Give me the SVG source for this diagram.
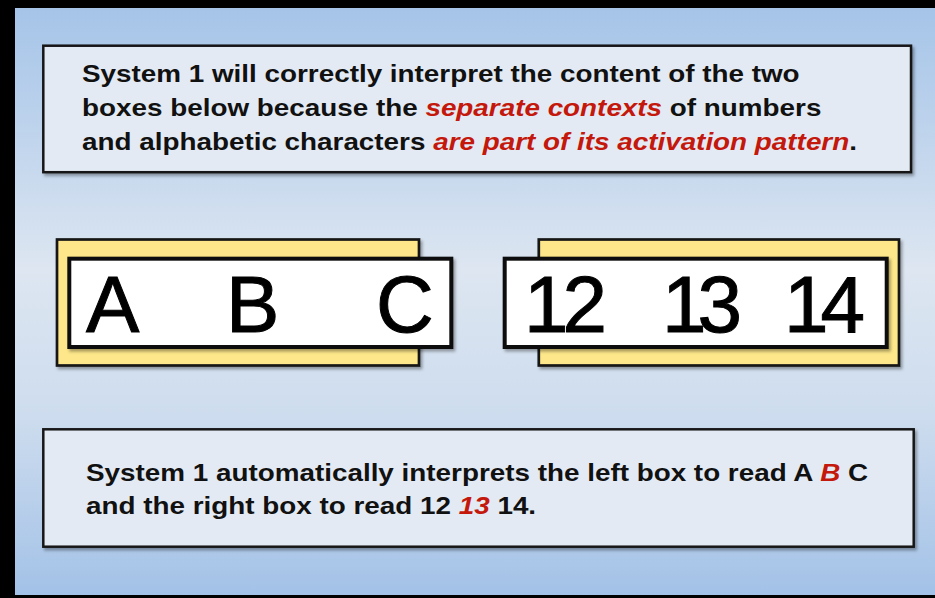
<svg xmlns="http://www.w3.org/2000/svg" width="935" height="598" viewBox="0 0 935 598">
  <defs>
    <linearGradient id="bg" x1="0" y1="0" x2="0" y2="1">
      <stop offset="0" stop-color="#a4c3e8"/>
      <stop offset="0.2" stop-color="#bcd2ec"/>
      <stop offset="0.45" stop-color="#dde6f1"/>
      <stop offset="0.7" stop-color="#cddcee"/>
      <stop offset="1" stop-color="#a2c1e7"/>
    </linearGradient>
    <filter id="shadow" x="-5%" y="-5%" width="110%" height="115%">
      <feDropShadow dx="2" dy="2.5" stdDeviation="1.5" flood-color="#000" flood-opacity="0.35"/>
    </filter>
    <style>
      .note { fill: #e3eaf3; stroke: #161616; stroke-width: 2.5; filter: url(#shadow); }
      .yellow { fill: #fde78a; stroke: #141414; stroke-width: 2.7; filter: url(#shadow); }
      .white { fill: #ffffff; stroke: #111111; stroke-width: 4; filter: url(#shadow); }
      .txt { font-family: "Liberation Sans", Arial, sans-serif; font-weight: bold; font-size: 24px; fill: #111111; }
      .red { fill: #c4180c; font-style: italic; }
      .big { font-family: "Liberation Sans", Arial, sans-serif; font-size: 80px; fill: #000000; stroke: #000000; stroke-width: 1; }
    </style>
  </defs>

  <rect x="0" y="0" width="935" height="598" fill="url(#bg)"/>
  <rect x="0" y="0" width="935" height="8" fill="#000"/>
  <rect x="0" y="0" width="15" height="598" fill="#000"/>
  <rect x="0" y="595" width="935" height="3" fill="#000"/>

  <g id="connectors"/>

  <g id="top-note">
    <rect class="note" x="43.3" y="45.7" width="867.7" height="126.5"/>
    <g transform="translate(82,0) scale(1.16,1)">
      <text class="txt" x="0" y="82.5">System 1 will correctly interpret the content of the two</text>
      <text class="txt" x="0" y="116.5">boxes below because the <tspan class="red">separate contexts</tspan> of numbers</text>
      <text class="txt" x="0" y="150">and alphabetic characters <tspan class="red">are part of its activation pattern</tspan>.</text>
    </g>
  </g>

  <g id="left-card">
    <rect class="yellow" x="57" y="239.5" width="362" height="126"/>
    <rect class="white" x="69.3" y="258.7" width="382" height="88.3"/>
    <text class="big" x="86" y="332">A</text>
    <text class="big" x="226" y="332">B</text>
    <text class="big" x="376" y="332">C</text>
  </g>

  <g id="right-card">
    <rect class="yellow" x="538.8" y="239.5" width="360.2" height="126"/>
    <rect class="white" x="504.7" y="258.7" width="382" height="88.3"/>
    <text class="big" x="524" y="332" letter-spacing="-6">12</text>
    <text class="big" x="662" y="332" letter-spacing="-9">13</text>
    <text class="big" x="784" y="332" letter-spacing="-8">14</text>
  </g>

  <g id="bottom-note">
    <rect class="note" x="43.3" y="429.3" width="870.4" height="117.4"/>
    <g transform="translate(86,0) scale(1.16,1)">
      <text class="txt" x="0" y="481.5">System 1 automatically interprets the left box to read A <tspan class="red">B</tspan> C</text>
      <text class="txt" x="0" y="514.5">and the right box to read 12 <tspan class="red">13</tspan> 14.</text>
    </g>
  </g>
</svg>
